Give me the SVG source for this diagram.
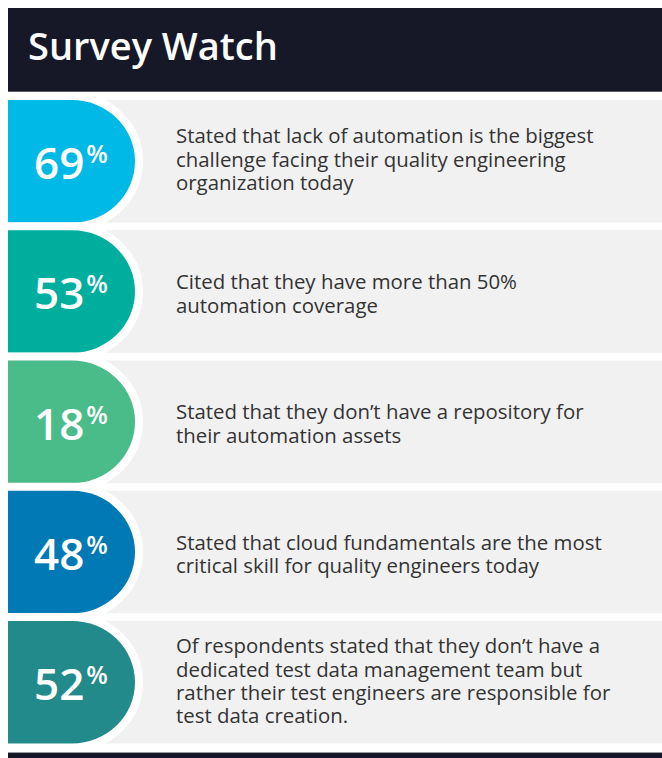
<svg xmlns="http://www.w3.org/2000/svg" width="662" height="758" viewBox="0 0 662 758">
<style>
.bar{fill:#171827}
.card{fill:#f1f1f1}
.badge{stroke:#ffffff;stroke-width:16;paint-order:stroke}
.title{font-family:"Open Sans","Liberation Sans",sans-serif;font-weight:600;font-size:38px;fill:#ffffff}
.num{font-family:"Open Sans","Liberation Sans",sans-serif;font-weight:600;font-size:44px;fill:#ffffff}
.pct{font-size:25px}
.body{font-family:"Open Sans","Liberation Sans",sans-serif;font-weight:400;font-size:20.4px;fill:#333333}
</style>
<defs>
<path id="badgeShape" d="M8,0 H72 A63,61.3 0 0 1 72,122.6 H8 Z"/>
</defs>
<rect width="662" height="758" fill="#ffffff"/>
<g id="header">
<rect class="bar" x="8" y="8" width="654" height="83.7"/>
<text class="title" x="28" y="60">Survey Watch</text>
</g>
<g id="row1" transform="translate(0,100)">
<rect class="card" x="8" y="0" width="654" height="122.6"/>
<use href="#badgeShape" class="badge" fill="#00b9e6"/>
<text class="num" x="34" y="79">69<tspan class="pct" dx="2" dy="-16">%</tspan></text>
<text class="body" x="176"><tspan x="176" y="43.3">Stated that lack of automation is the biggest</tspan><tspan x="176" y="66.8">challenge facing their quality engineering</tspan><tspan x="176" y="90.3">organization today</tspan></text>
</g>
<g id="row2" transform="translate(0,230.2)">
<rect class="card" x="8" y="0" width="654" height="122.6"/>
<use href="#badgeShape" class="badge" fill="#00ae9e"/>
<text class="num" x="34" y="79">53<tspan class="pct" dx="2" dy="-16">%</tspan></text>
<text class="body" x="176"><tspan x="176" y="59.1">Cited that they have more than 50%</tspan><tspan x="176" y="82.8">automation coverage</tspan></text>
</g>
<g id="row3" transform="translate(0,360.5)">
<rect class="card" x="8" y="0" width="654" height="122.6"/>
<use href="#badgeShape" class="badge" fill="#4abc8a"/>
<text class="num" x="34" y="79">18<tspan class="pct" dx="2" dy="-16">%</tspan></text>
<text class="body" x="176"><tspan x="176" y="58.7">Stated that they don’t have a repository for</tspan><tspan x="176" y="82.2">their automation assets</tspan></text>
</g>
<g id="row4" transform="translate(0,490.7)">
<rect class="card" x="8" y="0" width="654" height="122.6"/>
<use href="#badgeShape" class="badge" fill="#0079b5"/>
<text class="num" x="34" y="79">48<tspan class="pct" dx="2" dy="-16">%</tspan></text>
<text class="body" x="176"><tspan x="176" y="59.2">Stated that cloud fundamentals are the most</tspan><tspan x="176" y="82.7">critical skill for quality engineers today</tspan></text>
</g>
<g id="row5" transform="translate(0,620.9)">
<rect class="card" x="8" y="0" width="654" height="122.6"/>
<use href="#badgeShape" class="badge" fill="#228a8b"/>
<text class="num" x="34" y="79">52<tspan class="pct" dx="2" dy="-16">%</tspan></text>
<text class="body" x="176"><tspan x="176" y="32.4">Of respondents stated that they don’t have a</tspan><tspan x="176" y="55.8">dedicated test data management team but</tspan><tspan x="176" y="79.2">rather their test engineers are responsible for</tspan><tspan x="176" y="102.6">test data creation.</tspan></text>
</g>
<g id="footer">
<rect x="8" y="752" width="654" height="1" fill="#9a9ca4"/>
<rect class="bar" x="8" y="753" width="654" height="5"/>
</g>
</svg>
